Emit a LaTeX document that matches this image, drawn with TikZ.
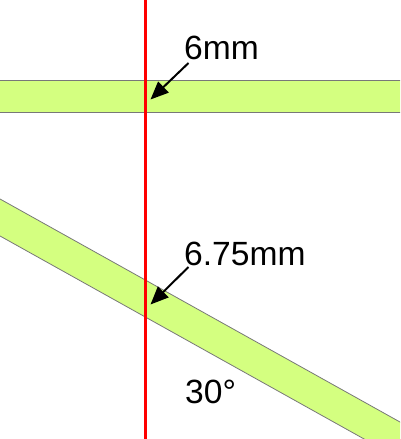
\documentclass[tikz,border=0pt]{standalone}
\usepackage{fontspec}
\setmainfont{Liberation Sans}
\usetikzlibrary{arrows.meta}
\definecolor{bandfill}{RGB}{212,255,128}
\definecolor{bandline}{RGB}{120,120,120}
\tikzset{
  band/.style={fill=bandfill, draw=bandline, line width=0.8pt},
  redline/.style={draw=red, line width=2.5pt},
  pointer/.style={draw=black, line width=2pt, -{Triangle[length=18pt,width=15pt]}},
  lbl/.style={anchor=base west, inner sep=0pt, font=\fontsize{33.6}{40}\selectfont}
}
\begin{document}
\begin{tikzpicture}[x=1pt,y=-1pt]
\useasboundingbox (0,0) rectangle (400,439);
\begin{scope}
\clip (0,0) rectangle (400,439);
\path[band] (-5,80.5) rectangle (405,112);
\path[band] (-5,196.2) -- (405,424.8) -- (405,461.8) -- (-5,233.2) -- cycle;
\end{scope}
\draw[redline] (145.5,0) -- (145.5,439);
\node[lbl] (t6) at (184,59.5) {6mm};
\node[lbl] (t675) at (184,265) {6.75mm};
\node[lbl] (t30) at (185,403) {30°};
\coordinate (a1s) at (188.5,63);
\coordinate (a1e) at (150.5,99.5);
\coordinate (a2s) at (188.5,267);
\coordinate (a2e) at (150.5,304.5);
\draw[pointer] (a1s) -- (a1e);
\draw[pointer] (a2s) -- (a2e);
\end{tikzpicture}
\end{document}
